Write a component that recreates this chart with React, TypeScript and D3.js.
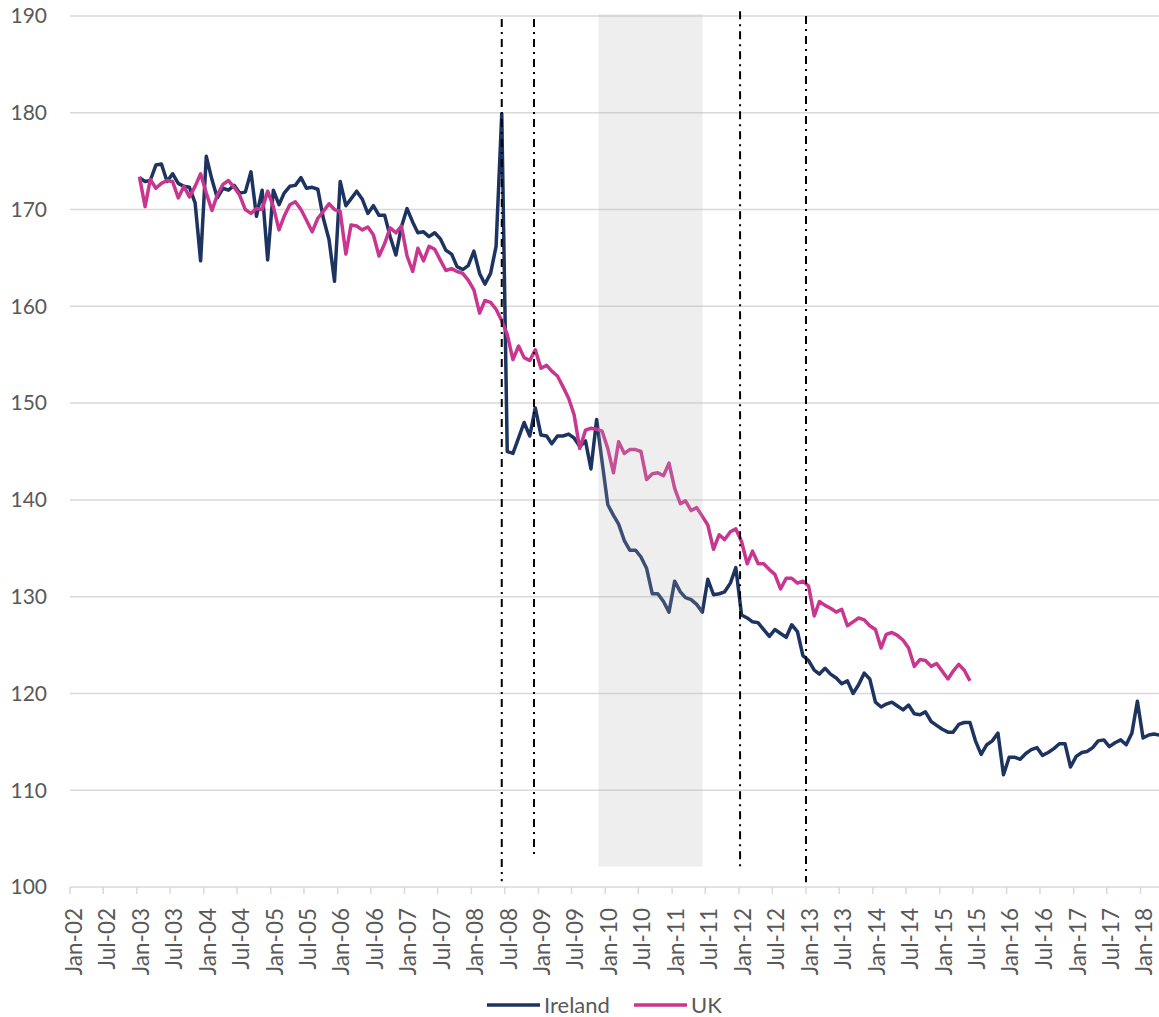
// @ts-nocheck
import React, { useEffect, useRef } from "react";
import * as d3 from "d3";

// monthly index values, first point Jan-03
const seriesStart = "2003-01-15";
const ireland = [
  173.3, 172.9, 173.0, 174.6, 174.7, 172.9, 173.7, 172.7, 172.4, 172.3,
  170.7, 164.7, 175.5, 173.1, 171.2, 172.2, 172.0, 172.5, 171.7, 171.8,
  173.9, 169.3, 172.0, 164.8, 172.0, 170.5, 171.7, 172.4, 172.5, 173.3,
  172.2, 172.3, 172.1, 169.1, 166.9, 162.6, 172.9, 170.4, 171.1, 171.9,
  171.1, 169.6, 170.4, 169.4, 169.4, 167.2, 165.3, 168.2, 170.1, 168.7,
  167.6, 167.7, 167.2, 167.6, 167.0, 165.8, 165.4, 164.1, 163.8, 164.2,
  165.7, 163.4, 162.3, 163.4, 166.2, 179.9, 145.0, 144.8, 146.4, 148.0,
  146.6, 149.5, 146.7, 146.6, 145.8, 146.6, 146.6, 146.8, 146.4, 145.5,
  146.1, 143.2, 148.3, 143.9, 139.5, 138.4, 137.5, 135.8, 134.8, 134.8,
  134.1, 132.9, 130.3, 130.3, 129.5, 128.4, 131.6, 130.5, 129.9, 129.7,
  129.2, 128.4, 131.8, 130.2, 130.3, 130.5, 131.4, 133.0, 128.1, 127.8,
  127.4, 127.3, 126.6, 125.9, 126.6, 126.2, 125.8, 127.1, 126.4, 123.9,
  123.4, 122.4, 122.0, 122.6, 122.0, 121.6, 121.0, 121.3, 120.0, 120.9,
  122.1, 121.5, 119.1, 118.6, 118.9, 119.1, 118.7, 118.3, 118.8, 117.9,
  117.8, 118.1, 117.1, 116.7, 116.3, 116.0, 116.0, 116.8, 117.0, 117.0,
  115.1, 113.7, 114.7, 115.1, 115.9, 111.6, 113.4, 113.4, 113.2, 113.8,
  114.2, 114.4, 113.6, 113.9, 114.3, 114.8, 114.8, 112.4, 113.5, 113.9,
  114.0, 114.4, 115.1, 115.2, 114.5, 114.9, 115.2, 114.7, 115.9, 119.2,
  115.4, 115.7, 115.8, 115.7
];
const uk = [
  173.4, 170.3, 173.1, 172.2, 172.7, 173.0, 172.9, 171.2, 172.4, 171.3,
  172.4, 173.7, 171.7, 169.9, 171.5, 172.6, 173.0, 172.3, 171.5, 170.0,
  169.6, 170.1, 170.0, 171.9, 170.3, 167.9, 169.3, 170.5, 170.8, 170.0,
  168.9, 167.7, 169.1, 169.8, 170.6, 170.0, 169.8, 165.4, 168.4, 168.3,
  167.9, 168.2, 167.4, 165.2, 166.5, 168.1, 167.6, 168.3, 165.2, 163.6,
  166.0, 164.7, 166.2, 165.9, 164.8, 163.7, 163.9, 163.6, 163.4, 162.7,
  161.7, 159.3, 160.6, 160.4, 159.7, 158.5, 157.1, 154.5, 155.9, 154.7,
  154.4, 155.5, 153.6, 153.9, 153.3, 152.8, 151.7, 150.5, 148.8, 145.3,
  147.2, 147.4, 147.3, 147.1, 145.3, 142.8, 146.0, 144.8, 145.2, 145.2,
  145.0, 142.1, 142.7, 142.8, 142.5, 143.8, 141.2, 139.6, 139.9, 138.9,
  139.2, 138.3, 137.4, 134.9, 136.4, 135.9, 136.7, 137.0, 135.7, 133.4,
  134.7, 133.4, 133.4, 132.8, 132.3, 130.8, 131.9, 131.9, 131.4, 131.6,
  131.1, 128.0, 129.5, 129.1, 128.8, 128.4, 128.7, 127.0, 127.4, 127.8,
  127.6, 127.0, 126.6, 124.7, 126.1, 126.3, 126.0, 125.5, 124.7, 122.8,
  123.5, 123.4, 122.8, 123.1, 122.3, 121.5, 122.3, 123.0, 122.4, 121.3
];
const seriesNames = ["Ireland", "UK"];
const seriesColors = ["#1d3461", "#c9368f"];

// event markers: date, top value, bottom value
const markers = [
  ["2008-06-15", 189.7, 100.6],
  ["2008-12-08", 189.7, 103.0],
  ["2012-01-07", 190.5, 101.8],
  ["2013-01-01", 190.0, 100.5]
];
// shaded period: start, end, top, bottom
const shaded = ["2009-11-25", "2011-06-16", 190.2, 102.1];

const xStart = "2002-01-01";
const xEnd = "2018-04-12";
const yTicks = [100, 110, 120, 130, 140, 150, 160, 170, 180, 190];

const width = 1159;
const height = 1017;
const marginLeft = 70;
const plotTop = 16;
const plotBottom = 887;

export default function App() {
  const svgRef = useRef(null);

  useEffect(() => {
    document.body.style.margin = "0";
    const svg = d3.select(svgRef.current);
    svg.selectAll("*").remove();

    const parse = d3.utcParse("%Y-%m-%d");
    const t0 = parse(seriesStart);
    const x = d3.scaleUtc([parse(xStart), parse(xEnd)], [marginLeft, width]);
    const y = d3.scaleLinear([100, 190], [plotBottom, plotTop]);
    const fmt = d3.utcFormat("%b-%y");
    const font = "Lato, 'Open Sans', sans-serif";

    // gridlines
    svg.append("g")
      .selectAll("line")
      .data(yTicks.slice(1))
      .join("line")
      .attr("x1", marginLeft)
      .attr("x2", width)
      .attr("y1", (d) => y(d))
      .attr("y2", (d) => y(d))
      .attr("stroke", "#d9d9d9")
      .attr("stroke-width", 1.5);

    // y labels
    svg.append("g")
      .selectAll("text")
      .data(yTicks)
      .join("text")
      .attr("x", 47)
      .attr("y", (d) => y(d))
      .attr("dy", "0.35em")
      .attr("text-anchor", "end")
      .attr("font-family", font)
      .attr("font-size", 21)
      .attr("fill", "#595959")
      .text((d) => d);

    // x axis
    const ticks = d3.utcMonth.every(6).range(parse(xStart), parse("2018-02-01"));
    const xAxis = svg.append("g");
    xAxis.append("line")
      .attr("x1", marginLeft)
      .attr("x2", width)
      .attr("y1", plotBottom)
      .attr("y2", plotBottom)
      .attr("stroke", "#d9d9d9")
      .attr("stroke-width", 1.5);
    xAxis.selectAll("line.tick")
      .data(ticks)
      .join("line")
      .attr("class", "tick")
      .attr("x1", (d) => x(d))
      .attr("x2", (d) => x(d))
      .attr("y1", plotBottom)
      .attr("y2", plotBottom + 7)
      .attr("stroke", "#d9d9d9")
      .attr("stroke-width", 1.5);
    xAxis.selectAll("text")
      .data(ticks)
      .join("text")
      .attr("transform", (d) => `translate(${x(d) + 4},${plotBottom + 21}) rotate(-90)`)
      .attr("dy", "0.35em")
      .attr("text-anchor", "end")
      .attr("font-family", font)
      .attr("font-size", 22.5)
      .attr("fill", "#595959")
      .text((d) => fmt(d));

    // series
    const line = d3.line()
      .x((d, i) => x(d3.utcMonth.offset(t0, i)))
      .y((d) => y(d));
    [ireland, uk].forEach((values, i) => {
      svg.append("path")
        .attr("d", line(values))
        .attr("fill", "none")
        .attr("stroke", seriesColors[i])
        .attr("stroke-width", 3.5)
        .attr("stroke-linejoin", "round");
    });

    // shaded period on top of the lines
    svg.append("rect")
      .attr("x", x(parse(shaded[0])))
      .attr("width", x(parse(shaded[1])) - x(parse(shaded[0])))
      .attr("y", y(shaded[2]))
      .attr("height", y(shaded[3]) - y(shaded[2]))
      .attr("fill", "#b2b2b2")
      .attr("fill-opacity", 0.22);

    // dash-dot event lines
    svg.append("g")
      .selectAll("line")
      .data(markers)
      .join("line")
      .attr("x1", (d) => x(parse(d[0])))
      .attr("x2", (d) => x(parse(d[0])))
      .attr("y1", (d) => y(d[1]))
      .attr("y2", (d) => y(d[2]))
      .attr("stroke", "#000")
      .attr("stroke-width", 2)
      .attr("stroke-dasharray", "8,5,2,5");

    // legend
    const legend = svg.append("g").attr("transform", `translate(487,1005)`);
    const offsets = [0, 147];
    seriesNames.forEach((name, i) => {
      const g = legend.append("g").attr("transform", `translate(${offsets[i]},0)`);
      g.append("line")
        .attr("x1", 0)
        .attr("x2", 53)
        .attr("stroke", seriesColors[i])
        .attr("stroke-width", 3.5);
      g.append("text")
        .attr("x", 57)
        .attr("dy", "0.35em")
        .attr("font-family", font)
        .attr("font-size", 22)
        .attr("fill", "#595959")
        .text(name);
    });
  }, []);

  return <svg ref={svgRef} width={width} height={height} style={{ display: "block" }} />;
}
